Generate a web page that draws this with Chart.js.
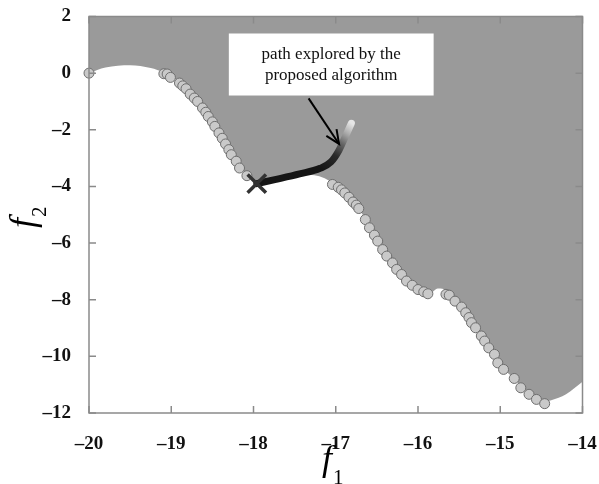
<!DOCTYPE html>
<html>
<head>
<meta charset="utf-8">
<script src="https://cdn.jsdelivr.net/npm/chart.js@4.4.1/dist/chart.umd.min.js"></script>
<style>
  body { margin: 0; background: #fff; }
  #wrap { width: 599px; height: 484px; position: relative; }
</style>
</head>
<body>
<div id="wrap"><canvas id="front"></canvas></div>
<script>
// ---- data ----
const xTicks = [-20, -19, -18, -17, -16, -15, -14]
const yTicks = [2, 0, -2, -4, -6, -8, -10, -12]

// edge between the grey (dominated) area and the white area
const edgeX = [-20, -19.8, -19.5, -19.25, -19.09, -18.95, -18.82, -18.68, -18.55, -18.42, -18.3, -18.17, -18.06, -17.96,
  -17.7, -17.44, -17.2, -17.07, -16.95, -16.8, -16.65, -16.5, -16.35, -16.2, -16.05, -15.92, -15.85, -15.76, -15.69,
  -15.62, -15.47, -15.3, -15.14, -15.0, -14.83, -14.65, -14.46, -14.38, -14.2, -14.0]
const edgeY = [0, 0.2, 0.28, 0.18, 0.02, -0.22, -0.55, -1.0, -1.5, -2.08, -2.65, -3.3, -3.65, -3.88,
  -3.72, -3.58, -3.64, -3.82, -4.08, -4.5, -5.1, -5.85, -6.55, -7.1, -7.52, -7.74, -7.76, -7.6, -7.62,
  -7.8, -8.22, -8.95, -9.65, -10.3, -10.8, -11.3, -11.6, -11.55, -11.34, -10.9]

// pareto front samples (circles)
const frontX = [-20, -19.09, -19.05, -19.01, -18.9, -18.86, -18.82, -18.77, -18.72, -18.68, -18.62, -18.58, -18.55, -18.5,
  -18.47, -18.42, -18.38, -18.34, -18.3, -18.27, -18.21, -18.17, -18.08,
  -17.04, -16.97, -16.93, -16.89, -16.84, -16.79, -16.75, -16.72, -16.64, -16.59, -16.53, -16.49, -16.43, -16.38,
  -16.31, -16.26, -16.2, -16.14, -16.07, -16.0, -15.93, -15.88,
  -15.66, -15.62, -15.55, -15.47, -15.42, -15.38, -15.35, -15.3, -15.23, -15.19, -15.14, -15.07, -15.03, -14.96,
  -14.83, -14.75, -14.65, -14.56, -14.46]
const frontY = [0, -0.02, -0.03, -0.15, -0.35, -0.45, -0.55, -0.74, -0.88, -1.0, -1.23, -1.38, -1.53, -1.72,
  -1.88, -2.11, -2.3, -2.5, -2.7, -2.88, -3.11, -3.35, -3.62,
  -3.93, -4.03, -4.12, -4.23, -4.38, -4.55, -4.66, -4.78, -5.17, -5.46, -5.72, -5.93, -6.23, -6.46,
  -6.7, -6.93, -7.11, -7.34, -7.49, -7.64, -7.72, -7.79,
  -7.81, -7.84, -8.05, -8.26, -8.46, -8.63, -8.81, -8.99, -9.28, -9.46, -9.7, -9.93, -10.23, -10.46,
  -10.78, -11.11, -11.34, -11.52, -11.67]

// path explored by the algorithm
const pathX = [-17.96, -17.74, -17.44, -17.19, -17.06, -16.96, -16.88, -16.81]
const pathY = [-3.9, -3.76, -3.56, -3.36, -3.14, -2.72, -2.22, -1.77]
const bestX = [-17.96]
const bestY = [-3.9]

// annotation
const noteLines = ['path explored by the', 'proposed algorithm']
const noteBoxX = [-18.3, -15.81]
const noteBoxY = [1.4, -0.79]
const arrowX = [-17.33, -16.96]
const arrowY = [-0.89, -2.5]

const zip = (xs, ys) => xs.map((x, i) => ({ x: x, y: ys[i] }))
const serif = "'Liberation Serif', 'Times New Roman', serif"
const fmt = v => (v < 0 ? '\u2013' + Math.abs(v) : String(v))

const pathGradient = ctx => {
  const chart = ctx.chart
  const { x, y } = chart.scales
  if (!chart.chartArea) return '#111'
  const n = pathX.length - 1
  const g = chart.ctx.createLinearGradient(
    x.getPixelForValue(pathX[3]), y.getPixelForValue(pathY[3]),
    x.getPixelForValue(pathX[n]), y.getPixelForValue(pathY[n]))
  g.addColorStop(0, '#151515')
  g.addColorStop(0.35, '#2a2a2a')
  g.addColorStop(0.6, '#666')
  g.addColorStop(0.8, '#aaa')
  g.addColorStop(1, '#e6e6e6')
  return g
}

// grey background, frame, inward ticks, note box, arrow head, axis titles
const decor = {
  id: 'decor',
  beforeDatasetsDraw(chart) {
    const { ctx, chartArea: a } = chart
    ctx.save()
    ctx.fillStyle = '#9a9a9a'
    ctx.fillRect(a.left, a.top, a.right - a.left, a.bottom - a.top)
    ctx.restore()
  },
  afterDatasetsDraw(chart) {
    const { ctx, chartArea: a, scales } = chart
    const sx = scales.x, sy = scales.y
    ctx.save()
    // frame + ticks
    ctx.strokeStyle = '#8a8a8a'
    ctx.lineWidth = 1.5
    ctx.strokeRect(a.left, a.top, a.right - a.left, a.bottom - a.top)
    ctx.beginPath()
    xTicks.forEach(v => {
      const px = sx.getPixelForValue(v)
      ctx.moveTo(px, a.bottom); ctx.lineTo(px, a.bottom - 7)
      ctx.moveTo(px, a.top); ctx.lineTo(px, a.top + 7)
    })
    yTicks.forEach(v => {
      const py = sy.getPixelForValue(v)
      ctx.moveTo(a.left, py); ctx.lineTo(a.left + 7, py)
      ctx.moveTo(a.right, py); ctx.lineTo(a.right - 7, py)
    })
    ctx.stroke()

    // note box
    const bx0 = sx.getPixelForValue(noteBoxX[0]), bx1 = sx.getPixelForValue(noteBoxX[1])
    const by0 = sy.getPixelForValue(noteBoxY[0]), by1 = sy.getPixelForValue(noteBoxY[1])
    ctx.fillStyle = '#fff'
    ctx.fillRect(bx0, by0, bx1 - bx0, by1 - by0)
    ctx.fillStyle = '#111'
    ctx.font = '17px ' + serif
    ctx.textAlign = 'center'
    ctx.textBaseline = 'middle'
    const cx = (bx0 + bx1) / 2, cy = (by0 + by1) / 2
    ctx.fillText(noteLines[0], cx, cy - 10)
    ctx.fillText(noteLines[1], cx, cy + 11)

    // arrow head
    const hx = sx.getPixelForValue(arrowX[1]), hy = sy.getPixelForValue(arrowY[1])
    const tx = sx.getPixelForValue(arrowX[0]), ty = sy.getPixelForValue(arrowY[0])
    const ang = Math.atan2(hy - ty, hx - tx)
    ctx.strokeStyle = '#000'
    ctx.lineWidth = 2
    ctx.beginPath()
    ctx.moveTo(hx - 15 * Math.cos(ang - 0.42), hy - 15 * Math.sin(ang - 0.42))
    ctx.lineTo(hx, hy)
    ctx.lineTo(hx - 15 * Math.cos(ang + 0.42), hy - 15 * Math.sin(ang + 0.42))
    ctx.stroke()

    // axis titles f1, f2
    ctx.fillStyle = '#000'
    ctx.textAlign = 'left'
    ctx.textBaseline = 'alphabetic'
    ctx.font = 'italic 36px ' + serif
    ctx.fillText('f', 322, 470)
    ctx.font = '21px ' + serif
    ctx.fillText('1', 333, 484)
    ctx.translate(34, 228)
    ctx.rotate(-Math.PI / 2)
    ctx.font = 'italic 36px ' + serif
    ctx.fillText('f', 0, 0)
    ctx.font = '21px ' + serif
    ctx.fillText('2', 11, 12)
    ctx.restore()
  }
}

new Chart(document.getElementById('front'), {
  type: 'scatter',
  data: {
    datasets: [
      {
        label: 'path arrow',
        type: 'line',
        data: zip(arrowX, arrowY),
        borderColor: '#000',
        borderWidth: 2,
        pointRadius: 0,
        order: 1
      },
      {
        label: 'best',
        data: zip(bestX, bestY),
        pointStyle: 'crossRot',
        pointRadius: 13,
        borderColor: '#333',
        borderWidth: 3.5,
        order: 2
      },
      {
        label: 'explored path',
        type: 'line',
        data: zip(pathX, pathY),
        borderColor: pathGradient,
        borderWidth: 7,
        borderCapStyle: 'round',
        cubicInterpolationMode: 'monotone',
        pointRadius: 0,
        order: 3
      },
      {
        label: 'pareto front',
        data: zip(frontX, frontY),
        pointRadius: 5,
        backgroundColor: '#c9c9c9',
        borderColor: '#6e6e6e',
        borderWidth: 1,
        clip: false,
        order: 4
      },
      {
        label: 'feasible edge',
        type: 'line',
        data: zip(edgeX, edgeY),
        borderWidth: 0,
        borderColor: 'rgba(0,0,0,0)',
        backgroundColor: '#fff',
        fill: 'start',
        cubicInterpolationMode: 'monotone',
        pointRadius: 0,
        order: 5
      }
    ]
  },
  options: {
    responsive: true,
    maintainAspectRatio: false,
    animation: false,
    layout: { padding: { top: 15, right: 16, left: 0, bottom: 0 } },
    plugins: { legend: { display: false }, tooltip: { enabled: false } },
    scales: {
      x: {
        type: 'linear',
        min: -20,
        max: -14,
        grid: { display: false },
        border: { display: false },
        ticks: {
          padding: 12,
          color: '#111',
          font: { family: serif, size: 19, weight: 'bold' },
          callback: v => fmt(v)
        },
        afterBuildTicks: s => { s.ticks = xTicks.map(v => ({ value: v })) },
        afterFit: s => { s.height = 71; s.paddingLeft = 0; s.paddingRight = 0 }
      },
      y: {
        type: 'linear',
        min: -12,
        max: 2,
        grid: { display: false },
        border: { display: false },
        ticks: {
          padding: 10,
          color: '#111',
          font: { family: serif, size: 19, weight: 'bold' },
          callback: v => fmt(v)
        },
        afterBuildTicks: s => { s.ticks = yTicks.map(v => ({ value: v })) },
        afterFit: s => { s.width = 89; s.paddingTop = 0; s.paddingBottom = 0 }
      }
    }
  },
  plugins: [decor]
})
</script>
</body>
</html>
